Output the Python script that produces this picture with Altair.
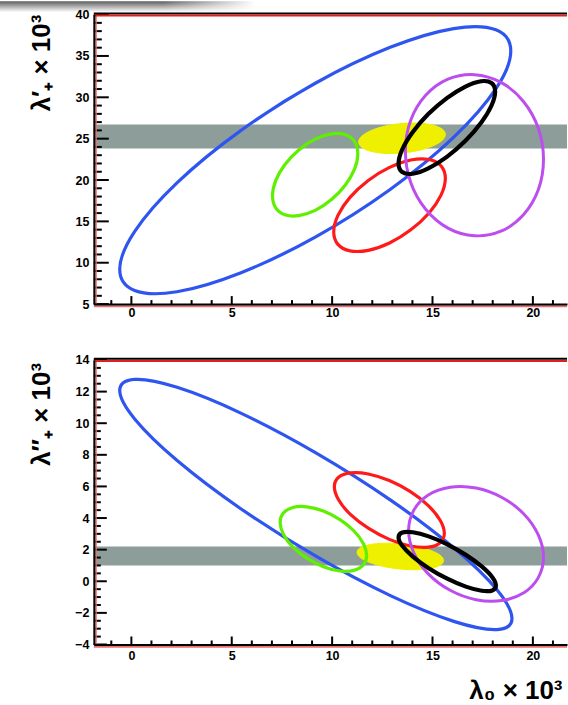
import altair as alt
import pandas as pd

# ---------------- data ----------------
X_DOMAIN = [-1.87, 21.7]
X_TICKS = [0, 5, 10, 15, 20]
X_MINOR = [-1, 1, 2, 3, 4, 6, 7, 8, 9, 11, 12, 13, 14, 16, 17, 18, 19, 21]

TOP_Y_DOMAIN = [5, 40]
TOP_Y_TICKS = [5, 10, 15, 20, 25, 30, 35, 40]
TOP_Y_MINOR = [v for v in range(5, 41) if v % 5 != 0]
TOP_BAND = [23.8, 26.7]

BOT_Y_DOMAIN = [-4, 14]
BOT_Y_TICKS = [-4, -2, 0, 2, 4, 6, 8, 10, 12, 14]
BOT_Y_MINOR = [v / 2 for v in range(-8, 29) if v % 4 != 0]
BOT_BAND = [1.0, 2.2]

# top panel contours (lambda_0, lambda'_+), points read around each curve
top_blue_x = [18.9, 18.16, 16.05, 12.89, 9.16, 5.43, 2.27, 0.16, -0.58, 0.16, 2.27, 5.43, 9.16, 12.89, 16.05, 18.16]
top_blue_y = [35.6, 38.16, 38.31, 36.04, 31.7, 25.94, 19.65, 13.76, 9.2, 6.64, 6.49, 8.76, 13.1, 18.86, 25.15, 31.04]
top_green_x = [11.28, 11.12, 10.66, 9.97, 9.155, 8.34, 7.65, 7.19, 7.03, 7.19, 7.65, 8.34, 9.155, 9.97, 10.66, 11.12]
top_green_y = [23.19, 24.64, 25.48, 25.58, 24.94, 23.63, 21.87, 19.93, 18.09, 16.63, 15.79, 15.69, 16.33, 17.64, 19.4, 21.35]
top_red_x = [15.64, 15.43, 14.83, 13.92, 12.86, 11.8, 10.89, 10.29, 10.08, 10.29, 10.89, 11.8, 12.86, 13.92, 14.83, 15.43]
top_red_y = [20.2, 21.7, 22.48, 22.42, 21.53, 19.94, 17.9, 15.72, 13.72, 12.22, 11.44, 11.5, 12.39, 13.98, 16.02, 18.2]
top_black_x = [18.12, 17.94, 17.42, 16.64, 15.715, 14.79, 14.01, 13.49, 13.31, 13.49, 14.01, 14.79, 15.715, 16.64, 17.42, 17.94]
top_black_y = [30.7, 31.73, 31.94, 31.3, 29.9, 27.97, 25.78, 23.69, 22.0, 20.97, 20.76, 21.4, 22.8, 24.74, 26.92, 29.01]
top_violet_x = [20.53, 20.27, 19.52, 18.41, 17.09, 15.77, 14.66, 13.91, 13.65, 13.91, 14.66, 15.77, 17.09, 18.41, 19.52, 20.27]
top_violet_y = [22.5, 26.27, 29.53, 31.81, 32.74, 32.19, 30.24, 27.19, 23.5, 19.74, 16.47, 14.19, 13.26, 13.81, 15.76, 18.81]
top_yellow_x = [15.64, 15.48, 15.01, 14.31, 13.48, 12.65, 11.95, 11.48, 11.32, 11.48, 11.95, 12.65, 13.48, 14.31, 15.01, 15.48]
top_yellow_y = [25.51, 26.16, 26.64, 26.88, 26.84, 26.53, 25.99, 25.31, 24.59, 23.94, 23.46, 23.22, 23.26, 23.57, 24.11, 24.79]

# bottom panel contours (lambda_0, lambda''_+)
bot_blue_x = [18.96, 18.22, 16.1, 12.93, 9.19, 5.45, 2.28, 0.164, -0.58, 0.164, 2.28, 5.45, 9.19, 12.93, 16.1, 18.22]
bot_blue_y = [-2.355, -0.555, 2.07, 5.12, 8.125, 10.64, 12.27, 12.77, 12.065, 10.27, 7.64, 4.59, 1.585, -0.925, -2.555, -3.057]
bot_green_x = [11.72, 11.56, 11.09, 10.39, 9.565, 8.74, 8.04, 7.57, 7.41, 7.57, 8.04, 8.74, 9.565, 10.39, 11.09, 11.56]
bot_green_y = [1.63, 2.38, 3.18, 3.9, 4.44, 4.71, 4.67, 4.32, 3.73, 2.98, 2.18, 1.46, 0.92, 0.65, 0.69, 1.04]
bot_red_x = [15.59, 15.38, 14.79, 13.9, 12.85, 11.8, 10.91, 10.32, 10.11, 10.32, 10.91, 11.8, 12.85, 13.9, 14.79, 15.38]
bot_red_y = [3.04, 3.86, 4.79, 5.67, 6.37, 6.79, 6.86, 6.58, 5.98, 5.16, 4.23, 3.36, 2.65, 2.23, 2.16, 2.44]
bot_black_x = [18.16, 17.98, 17.45, 16.66, 15.735, 14.81, 14.02, 13.495, 13.31, 13.495, 14.02, 14.81, 15.735, 16.66, 17.45, 17.98]
bot_black_y = [-0.275, 0.26, 0.94, 1.67, 2.34, 2.84, 3.1, 3.08, 2.775, 2.24, 1.56, 0.83, 0.16, -0.34, -0.6, -0.58]
bot_violet_x = [20.53, 20.27, 19.55, 18.46, 17.17, 15.88, 14.79, 14.07, 13.81, 14.07, 14.79, 15.88, 17.17, 18.46, 19.55, 20.27]
bot_violet_y = [1.515, 2.93, 4.26, 5.3, 5.895, 5.95, 5.46, 4.5, 3.215, 1.8, 0.47, -0.57, -1.165, -1.22, -0.73, 0.23]
bot_yellow_x = [15.55, 15.39, 14.92, 14.22, 13.395, 12.57, 11.87, 11.4, 11.24, 11.4, 11.87, 12.57, 13.395, 14.22, 14.92, 15.39]
bot_yellow_y = [1.31, 1.64, 1.95, 2.21, 2.37, 2.41, 2.32, 2.12, 1.83, 1.5, 1.19, 0.93, 0.77, 0.73, 0.82, 1.02]

COLORS = {"blue": "#2f55f0", "green": "#5ef000", "red": "#ff1a1a",
          "violet": "#bc4ef0", "black": "#000000"}
WIDTHS = {"blue": 3.2, "green": 3.2, "red": 3.2, "violet": 3.0, "black": 4.2}
YELLOW = "#eef000"
BAND = "#8d9e9a"

W = 474
FONT = "Liberation Sans"


def contour(xs, ys):
    return pd.DataFrame({"x": xs, "y": ys, "i": list(range(len(xs)))})


def panel(H, ydom, yticks, yminor, ymaj_len, ymin_len, band, contours, yellow,
          ytitle, ytitleY, xtitle, xlabpad, shade=False):
    xs = alt.Scale(domain=X_DOMAIN, nice=False, zero=False)
    ys = alt.Scale(domain=ydom, nice=False, zero=False)
    xaxis_kw = dict(values=X_TICKS, ticks=False, grid=False, domainColor="black",
                    domainWidth=2, labelFont=FONT, labelFontWeight="bold",
                    labelFontSize=12.5, labelColor="black", labelPadding=xlabpad,
                    labelFlush=False, zindex=1)
    if xtitle:
        xaxis = alt.Axis(title=xtitle, titleFont=FONT, titleFontWeight="bold",
                         titleFontSize=26, titleColor="black", titleX=469,
                         titleY=46, titleAlign="right", titleBaseline="middle",
                         **xaxis_kw)
    else:
        xaxis = alt.Axis(title=None, **xaxis_kw)
    yaxis = alt.Axis(values=yticks, ticks=False, grid=False, domainColor="black",
                     domainWidth=2, labelFont=FONT, labelFontWeight="bold",
                     labelFontSize=12.5, labelColor="black", labelPadding=5,
                     labelFlush=False, title=ytitle, titleFont=FONT,
                     titleFontWeight="bold", titleFontSize=26, titleColor="black",
                     titleAngle=270, titleX=-52, titleY=ytitleY,
                     titleAlign="center", titleBaseline="middle", zindex=1)
    X = lambda f: alt.X(f, scale=xs, axis=xaxis)
    Y = lambda f: alt.Y(f, scale=ys, axis=yaxis)

    layers = []
    one = pd.DataFrame({"a": [0]})
    if shade:
        # grey scan shadow in the top-left corner of the page
        layers.append(alt.Chart(one).mark_rect(
            fill=alt.Gradient(gradient="linear", x1=0, x2=0, y1=0, y2=1,
                              stops=[alt.GradientStop(color="#5e5e5e", offset=0),
                                     alt.GradientStop(color="#a8a8a8", offset=0.45),
                                     alt.GradientStop(color="#ffffff", offset=1)])
        ).encode(x=alt.value(-94), x2=alt.value(160), y=alt.value(-13.3), y2=alt.value(-2.5)))
        layers.append(alt.Chart(one).mark_rect(
            fill=alt.Gradient(gradient="linear", x1=0, x2=1, y1=0, y2=0,
                              stops=[alt.GradientStop(color="rgba(255,255,255,0)", offset=0),
                                     alt.GradientStop(color="#ffffff", offset=1)])
        ).encode(x=alt.value(70), x2=alt.value(162), y=alt.value(-13.5), y2=alt.value(-2.3)))

    bdf = pd.DataFrame({"y": [band[0]], "y2": [band[1]]})
    layers.append(alt.Chart(bdf).mark_rect(color=BAND).encode(
        x=alt.value(0), x2=alt.value(W), y=Y("y:Q"), y2="y2:Q"))
    layers.append(alt.Chart(contour(*yellow)).mark_line(
        interpolate="cardinal-closed", fill=YELLOW, stroke=YELLOW, strokeWidth=1
    ).encode(x=X("x:Q"), y=Y("y:Q"), order="i:Q"))
    for name in ["blue", "green", "red", "violet", "black"]:
        xs_, ys_ = contours[name]
        layers.append(alt.Chart(contour(xs_, ys_)).mark_line(
            interpolate="cardinal-closed", color=COLORS[name],
            strokeWidth=WIDTHS[name]
        ).encode(x=X("x:Q"), y=Y("y:Q"), order="i:Q"))

    # inner ticks (ROOT style)
    def tdf(v):
        return pd.DataFrame({"v": v})
    layers.append(alt.Chart(tdf(X_TICKS)).mark_rule(color="black", strokeWidth=2).encode(
        x=X("v:Q"), y=alt.value(H), y2=alt.value(H - 8)))
    layers.append(alt.Chart(tdf(X_MINOR)).mark_rule(color="black", strokeWidth=2).encode(
        x=X("v:Q"), y=alt.value(H), y2=alt.value(H - 4)))
    layers.append(alt.Chart(tdf(yticks)).mark_rule(color="black", strokeWidth=2).encode(
        y=Y("v:Q"), x=alt.value(0), x2=alt.value(ymaj_len)))
    layers.append(alt.Chart(tdf(yminor)).mark_rule(color="black", strokeWidth=2).encode(
        y=Y("v:Q"), x=alt.value(0), x2=alt.value(ymin_len)))

    # frame decorations
    layers.append(alt.Chart(one).mark_rule(color="#e87070", strokeWidth=1.5).encode(
        x=alt.value(2.2), y=alt.value(0), y2=alt.value(H)))
    layers.append(alt.Chart(one).mark_rule(color="#e87070", strokeWidth=2).encode(
        x=alt.value(0), x2=alt.value(W), y=alt.value(H + 2.2)))
    layers.append(alt.Chart(one).mark_rule(color="black", strokeWidth=2).encode(
        x=alt.value(0), x2=alt.value(W), y=alt.value(-1.2)))
    layers.append(alt.Chart(one).mark_rule(color="#e02020", strokeWidth=2).encode(
        x=alt.value(0), x2=alt.value(W), y=alt.value(1.0)))

    return alt.layer(*layers).properties(width=W, height=H)


top = panel(
    290, TOP_Y_DOMAIN, TOP_Y_TICKS, TOP_Y_MINOR, 15, 8, TOP_BAND,
    {"blue": (top_blue_x, top_blue_y), "green": (top_green_x, top_green_y),
     "red": (top_red_x, top_red_y), "violet": (top_violet_x, top_violet_y),
     "black": (top_black_x, top_black_y)},
    (top_yellow_x, top_yellow_y), "λ′₊ × 10³", 48, None, 2, shade=True)

bottom = panel(
    285, BOT_Y_DOMAIN, BOT_Y_TICKS, BOT_Y_MINOR, 13, 7, BOT_BAND,
    {"blue": (bot_blue_x, bot_blue_y), "green": (bot_green_x, bot_green_y),
     "red": (bot_red_x, bot_red_y), "violet": (bot_violet_x, bot_violet_y),
     "black": (bot_black_x, bot_black_y)},
    (bot_yellow_x, bot_yellow_y), "λ″₊ × 10³", 54, "λ₀ × 10³", 5)

chart = alt.vconcat(top, bottom, spacing=56, bounds="flush").properties(
    padding={"left": 0, "top": 0, "right": 0, "bottom": 0},
    background="white",
).configure_view(stroke=None)

chart.save("out.html", embed_options={"renderer": "svg", "actions": False})
